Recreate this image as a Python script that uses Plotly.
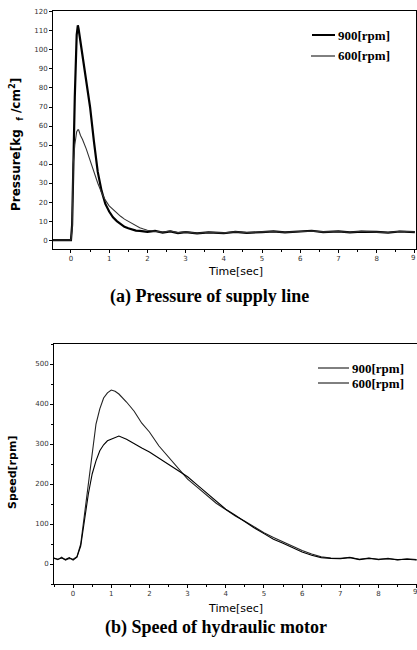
import plotly.graph_objects as go
from plotly.subplots import make_subplots

# ---------------- data ----------------
t_pressure = [-0.47, -0.3, -0.15, 0.0, 0.03, 0.06, 0.1, 0.15, 0.18, 0.2, 0.25, 0.3, 0.4, 0.5,
              0.6, 0.7, 0.8, 0.9, 1.0, 1.1, 1.2, 1.3, 1.4, 1.5, 1.6, 1.7, 1.8, 1.9, 2.0,
              2.2, 2.4, 2.6, 2.8, 3.0, 3.3, 3.6, 4.0, 4.3, 4.6, 5.0, 5.3, 5.6, 6.0,
              6.3, 6.6, 7.0, 7.3, 7.6, 8.0, 8.3, 8.6, 9.0]
p_900 = [0, 0, 0, 0, 8, 42, 75, 108, 113, 111, 104, 97, 84, 70,
         52, 36, 26, 19, 15, 12, 10, 8.5, 7, 6.2, 5.5, 5, 4.8, 4.5, 4.3,
         4.8, 3.9, 4.6, 3.7, 4.2, 3.5, 4.0, 3.6, 4.3, 3.8, 4.2, 4.6, 4.0, 4.5,
         4.9, 4.2, 4.6, 4.0, 4.4, 4.3, 3.9, 4.5, 4.2]
p_600 = [0, 0, 0, 0, 6, 40, 50, 57, 58, 58, 55, 53, 48, 42,
         35, 30, 25, 21, 18, 16, 14, 12.5, 11, 9.8, 8.5, 7.5, 6.5, 5.8, 5.2,
         4.6, 4.2, 4.8, 3.9, 4.3, 3.6, 4.1, 3.8, 4.4, 3.9, 4.3, 4.5, 4.1, 4.6,
         4.8, 4.3, 4.5, 4.1, 4.6, 4.2, 4.0, 4.6, 4.3]

t_speed = [-0.5, -0.4, -0.3, -0.2, -0.1, 0.0, 0.1, 0.2, 0.3, 0.4, 0.5, 0.6, 0.7, 0.8,
           0.9, 1.0, 1.1, 1.2, 1.4, 1.6, 1.8, 2.0, 2.25, 2.5, 2.75, 3.0, 3.25, 3.5,
           3.75, 4.0, 4.25, 4.5, 4.75, 5.0, 5.25, 5.5, 5.75, 6.0, 6.25, 6.5, 6.75,
           7.0, 7.25, 7.5, 7.75, 8.0, 8.25, 8.5, 8.75, 9.0]
s_900 = [15, 11, 17, 10, 14, 12, 18, 50, 125, 200, 285, 350, 388, 415,
         428, 435, 432, 425, 405, 382, 352, 330, 295, 268, 240, 212, 192, 172,
         152, 136, 120, 107, 92, 78, 66, 55, 44, 34, 25, 18, 15,
         14, 17, 12, 15, 11, 14, 10, 13, 11]
s_600 = [14, 12, 15, 11, 16, 10, 17, 45, 110, 175, 225, 258, 283, 298,
         308, 312, 318, 320, 312, 300, 290, 280, 265, 250, 235, 218, 198, 178,
         156, 137, 122, 105, 90, 76, 62, 52, 41, 30, 22, 16, 14,
         13, 16, 11, 14, 12, 13, 11, 12, 10]

series_names = ["900[rpm]", "600[rpm]"]
x_ticks = [0, 1, 2, 3, 4, 5, 6, 7, 8, 9]
p_ticks = [0, 10, 20, 30, 40, 50, 60, 70, 80, 90, 100, 110, 120]
s_ticks = [0, 100, 200, 300, 400, 500]

# ---------------- figure ----------------
W, H = 417, 650
fig = make_subplots(rows=2, cols=1, vertical_spacing=0.05)

fig.add_trace(go.Scatter(x=t_pressure, y=p_900, mode="lines", name=series_names[0],
                         line=dict(color="black", width=2.2), showlegend=False), row=1, col=1)
fig.add_trace(go.Scatter(x=t_pressure, y=p_600, mode="lines", name=series_names[1],
                         line=dict(color="#333333", width=1.1), showlegend=False), row=1, col=1)
fig.add_trace(go.Scatter(x=t_speed, y=s_900, mode="lines", name=series_names[0],
                         line=dict(color="#222222", width=1.1), showlegend=False), row=2, col=1)
fig.add_trace(go.Scatter(x=t_speed, y=s_600, mode="lines", name=series_names[1],
                         line=dict(color="black", width=1.1), showlegend=False), row=2, col=1)

def px_x(v):
    return v / W

def px_y(v):
    return 1 - v / H

tickfont = dict(family="DejaVu Sans", size=7, color="#333333")
common_x = dict(showline=True, linecolor="black", linewidth=1, mirror=True,
                ticks="outside", ticklen=3, tickcolor="black", showgrid=False,
                zeroline=False, tickvals=x_ticks, tickfont=tickfont, automargin=False,
                minor=dict(dtick=0.5, ticks="outside", ticklen=2, tickcolor="black"))

fig.update_xaxes(range=[-0.47, 9.03], domain=[px_x(53), px_x(416)], **common_x, row=1, col=1)
fig.update_xaxes(range=[-0.5, 9.01], domain=[px_x(54), px_x(417)], **common_x, row=2, col=1)

fig.update_yaxes(range=[-4.7, 120.5], tickvals=p_ticks, showline=True, linecolor="black",
                 linewidth=1, mirror=True, ticks="outside", ticklen=3, tickcolor="black",
                 showgrid=False, zeroline=False, tickfont=tickfont, automargin=False,
                 domain=[px_y(249), px_y(11)], row=1, col=1)
fig.update_yaxes(range=[-50, 550], tickvals=s_ticks, showline=True, linecolor="black",
                 linewidth=1, mirror=True, ticks="outside", ticklen=3, tickcolor="black",
                 showgrid=False, zeroline=False, tickfont=tickfont, automargin=False,
                 minor=dict(dtick=50, ticks="outside", ticklen=2, tickcolor="black"),
                 domain=[px_y(584), px_y(344)], row=2, col=1)

sans = "DejaVu Sans"
serif = dict(family="Liberation Serif", size=18, color="black")
leg_font = dict(family="Liberation Serif", size=13, color="black")

annotations = [
    dict(text="<b>Pressure[kg  <sub>f</sub> /cm<sup>2</sup>]</b>", x=px_x(16), y=px_y(145),
         textangle=-90, font=dict(family=sans, size=12, color="black")),
    dict(text="Time[sec]", x=px_x(235), y=px_y(271), font=dict(family=sans, size=11, color="black")),
    dict(text="<b>(a) Pressure of supply line</b>", x=px_x(209), y=px_y(296), font=serif),
    dict(text="<b>Speed[rpm]</b>", x=px_x(13), y=px_y(473), textangle=-90,
         font=dict(family=sans, size=11, color="black")),
    dict(text="Time[sec]", x=px_x(235), y=px_y(608), font=dict(family=sans, size=11, color="black")),
    dict(text="<b>(b) Speed of hydraulic motor</b>", x=px_x(216), y=px_y(627), font=serif),
]
for a in annotations:
    a.update(xanchor="center", yanchor="middle", xref="paper")

# last x tick label sits on the right edge of each panel
annotations.append(dict(text=str(x_ticks[-1]), x=x_ticks[-1], xref="x", y=px_y(258),
                        xanchor="right", yanchor="middle", xshift=2, font=tickfont))
annotations.append(dict(text=str(x_ticks[-1]), x=x_ticks[-1], xref="x2", y=px_y(592),
                        xanchor="right", yanchor="middle", xshift=2, font=tickfont))

# legends (line sample + label), positioned in pixels
legend_rows = [
    (series_names[0], 312, 335, 35, 2.0),
    (series_names[1], 311, 335, 56, 1.0),
    (series_names[0], 318, 349, 368, 1.0),
    (series_names[1], 318, 349, 383, 1.0),
]
shapes = []
for name, x0, x1, yy, lw in legend_rows:
    shapes.append(dict(type="line", xref="paper", yref="paper",
                       x0=px_x(x0), x1=px_x(x1), y0=px_y(yy), y1=px_y(yy),
                       line=dict(color="black", width=lw)))
    annotations.append(dict(text="<b>" + name + "</b>", x=px_x(x1 + 1), y=px_y(yy),
                            xref="paper", xanchor="left", yanchor="middle", font=leg_font))
for a in annotations:
    a.update(yref="paper", showarrow=False)

fig.update_layout(
    width=W, height=H, margin=dict(l=0, r=0, t=0, b=0),
    paper_bgcolor="white", plot_bgcolor="white",
    annotations=annotations, shapes=shapes,
    showlegend=False,
)

fig.write_html(
    "out.html",
    config={"displayModeBar": False},
    post_script="document.body.style.margin='0';document.body.style.overflow='hidden';",
)
